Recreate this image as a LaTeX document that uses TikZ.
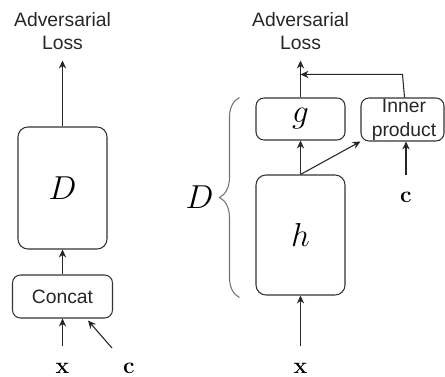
\documentclass[tikz,border=0pt]{standalone}
\usepackage[no-math]{fontspec}
\setmainfont{Liberation Sans}
\usetikzlibrary{arrows.meta, calc, decorations.pathreplacing}

\begin{document}
\begin{tikzpicture}[x=0.75pt, y=-0.75pt, line width=0.8pt,
    blk/.style={draw=black!80, rounded corners=6pt, inner sep=0pt},
    arr/.style={draw=black!85, -{Stealth[length=6pt, width=5.5pt]}},
    txt/.style={font=\fontsize{14.5}{17.25}\selectfont, text=black!85, align=center},
    loss/.style={txt, minimum height=43.5pt},
    sym/.style={font=\fontsize{25}{30}\selectfont},
    vec/.style={font=\fontsize{18}{21}\selectfont}]

\useasboundingbox (0,0) rectangle (445,377);

% Left: concatenation discriminator
\node[loss] (lossL) at (62.5,31) {Adversarial\\Loss};
\node[blk, sym, rounded corners=7.5pt, minimum width=66.75pt, minimum height=91.5pt] (boxD) at (62.5,188) {$D$};
\node[blk, txt, minimum width=75pt, minimum height=32.25pt] (concat) at (62.5,296.5) {Concat};
\node[vec] (xL) at (62.5,368.5) {$\mathbf{x}$};
\node[vec] (cL) at (129,368.5) {$\mathbf{c}$};
\coordinate (cTail) at (112,348);

\draw[arr, shorten <=9pt] (xL.north) -- (concat.south);
\draw[arr] (cTail) -- ($(concat.south)+(25.5,2)$);
\draw[arr] (concat.north) -- (boxD.south);
\draw[arr] (boxD.north) -- (boxD.north |- lossL.south);

% Right: projection discriminator, D split into h and g
\node[loss] (lossR) at (300.5,31) {Adversarial\\Loss};
\node[blk, sym, minimum width=66.75pt, minimum height=31.5pt] (boxG) at (300.5,119) {$g$};
\node[blk, sym, rounded corners=7.5pt, minimum width=66.75pt, minimum height=90pt] (boxH) at (300.5,235) {$h$};
\node[blk, minimum width=62.25pt, minimum height=32.25pt] (innerbox) at (402.5,119.5) {};
\node[txt, font=\fontsize{14.5}{18}\selectfont] (innerTxt) at (404,120) {Inner\\product};
\node[vec] (xR) at (300.5,368.5) {$\mathbf{x}$};
\node[vec] (cR) at (406,197) {$\mathbf{c}$};
\coordinate (join) at ($(boxG.north)+(0,-23)$);

\draw[arr, shorten <=9pt] (xR.north) -- (boxH.south);
\draw[arr] (boxH.north) -- (boxG.south);
\draw[arr] (boxH.north) -- (innerbox.south west);
\draw[arr, shorten <=9pt] (cR.north) -- (cR.north |- innerbox.south);
\draw[arr] (boxG.north) -- (boxG.north |- lossR.south);
\draw[arr] ([xshift=1.5pt]innerbox.north) -- (innerbox.north |- join) -- (join);

% Brace grouping h and g
\draw[black!55, decorate, decoration={brace, amplitude=15pt}]
    ($(boxH.south west)+(-16,2)$) -- ($(boxG.north west)+(-16,0)$);
\node[sym, anchor=east, inner sep=0pt] (labD) at (214,197) {$D$};

\end{tikzpicture}
\end{document}
